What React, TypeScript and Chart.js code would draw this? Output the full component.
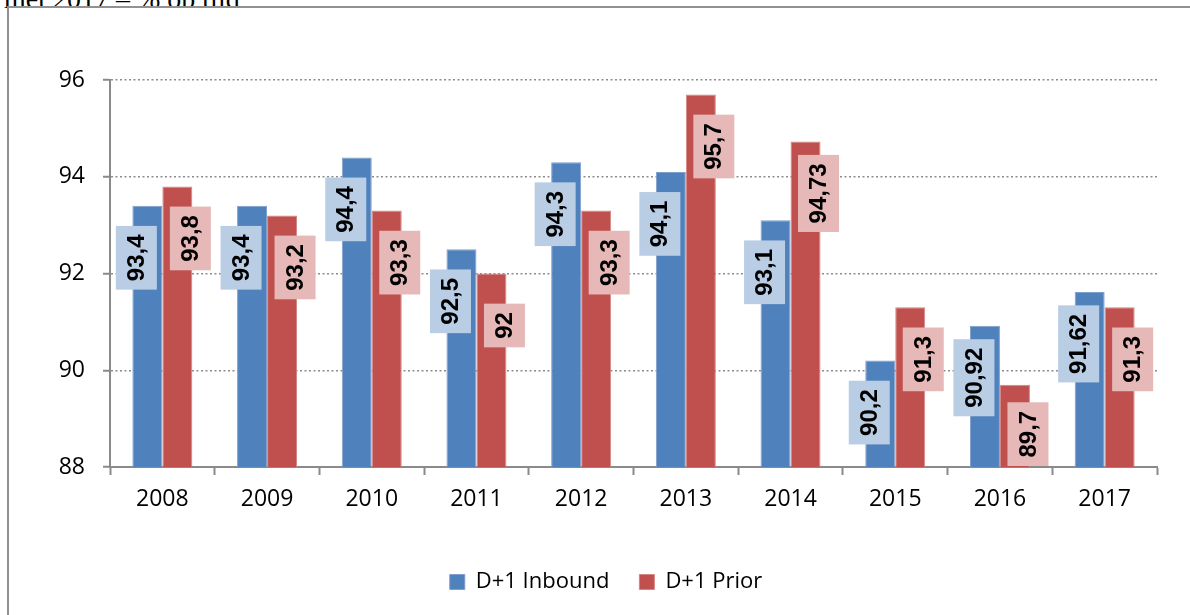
import React, { useEffect, useRef } from "react";
import { Chart, registerables } from "chart.js";

Chart.register(...registerables);

const years = ["2008", "2009", "2010", "2011", "2012", "2013", "2014", "2015", "2016", "2017"];
const inbound = [93.4, 93.4, 94.4, 92.5, 94.3, 94.1, 93.1, 90.2, 90.92, 91.62];
const prior = [93.8, 93.2, 93.3, 92, 93.3, 95.7, 94.73, 91.3, 89.7, 91.3];
const seriesNames = ["D+1 Inbound", "D+1 Prior"];
const yTicks = [88, 90, 92, 94, 96];

const BLUE = "#4F81BD";
const RED = "#C0504D";
const BLUE_LABEL = "#B9CDE5";
const RED_LABEL = "#E6B9B8";
const AXIS = "#8a8a8a";
const TICK_FONT = "'Open Sans', sans-serif";

const labelPlugin = {
  id: "barLabels",
  afterDatasetsDraw(chart: any) {
    const ctx = chart.ctx;
    const area = chart.chartArea;
    ctx.save();
    ctx.font = "bold 24px 'Liberation Sans', Arial, sans-serif";
    ctx.textAlign = "center";
    ctx.textBaseline = "middle";
    chart.data.datasets.forEach((ds: any, di: number) => {
      const meta = chart.getDatasetMeta(di);
      meta.data.forEach((el: any, i: number) => {
        const v = ds.data[i];
        const text = String(v).replace(".", ",");
        const tw = ctx.measureText(text).width;
        const boxLen = tw + 17;
        const boxThick = 41;
        const x = el.x + (di === 0 ? -11 : 13);
        let cy = el.y + 52;
        if (cy + boxLen / 2 > area.bottom - 1) cy = area.bottom - 1 - boxLen / 2;
        ctx.save();
        ctx.translate(x, cy);
        ctx.rotate(-Math.PI / 2);
        ctx.fillStyle = di === 0 ? BLUE_LABEL : RED_LABEL;
        ctx.fillRect(-boxLen / 2, -boxThick / 2, boxLen, boxThick);
        ctx.fillStyle = "#000";
        ctx.fillText(text, 0, 1);
        ctx.restore();
      });
    });
    ctx.restore();
  },
};

export default function App() {
  const ref = useRef<HTMLCanvasElement>(null);
  useEffect(() => {
    if (!ref.current) return;
    const chart = new Chart(ref.current, {
      type: "bar",
      data: {
        labels: years,
        datasets: [
          {
            label: seriesNames[0],
            data: inbound,
            backgroundColor: BLUE,
            borderColor: "#7F9FCC",
            borderWidth: 1,
            barPercentage: 1,
            categoryPercentage: 0.573,
          },
          {
            label: seriesNames[1],
            data: prior,
            backgroundColor: RED,
            borderColor: "#D38684",
            borderWidth: 1,
            barPercentage: 1,
            categoryPercentage: 0.573,
          },
        ],
      },
      options: {
        responsive: false,
        animation: false,
        devicePixelRatio: 1,
        layout: { padding: { left: 55, right: 33, top: 80, bottom: 12 } },
        plugins: {
          legend: {
            position: "bottom",
            labels: {
              boxWidth: 15,
              boxHeight: 15,
              padding: 30,
              color: "#000",
              font: { family: TICK_FONT, size: 22 },
            },
          },
          tooltip: { enabled: false },
          title: { display: false },
        },
        scales: {
          x: {
            afterFit: (s: any) => {
              s.height = 74;
            },
            grid: {
              display: true,
              drawOnChartArea: false,
              drawTicks: true,
              tickLength: 8,
              tickColor: AXIS,
              tickWidth: 2,
              color: AXIS,
              offset: true,
            },
            border: { display: true, color: AXIS, width: 2 },
            ticks: {
              color: "#000",
              padding: 11,
              font: { family: TICK_FONT, size: 23 },
            },
          },
          y: {
            min: 88,
            max: 96,
            afterFit: (s: any) => {
              s.width = 55;
            },
            afterBuildTicks: (s: any) => {
              s.ticks = yTicks.map((v) => ({ value: v }));
            },
            grid: {
              color: "#8c8c8c",
              lineWidth: 1.5,
              drawTicks: true,
              tickLength: 7,
              tickColor: AXIS,
              tickWidth: 2,
              tickBorderDash: [],
            },
            border: { display: true, color: AXIS, width: 2, dash: [2, 2.5] },
            ticks: {
              color: "#000",
              padding: 18,
              font: { family: TICK_FONT, size: 23 },
              callback: (v: any) => String(v),
            },
          },
        },
      },
      plugins: [labelPlugin],
    });
    return () => chart.destroy();
  }, []);

  return (
    <div
      style={{
        position: "fixed",
        left: 0,
        top: 0,
        width: 1190,
        height: 615,
        overflow: "hidden",
        background: "#fff",
      }}
    >
      <div
        style={{
          position: "absolute",
          left: 4,
          top: -15,
          fontFamily: "'Liberation Serif', serif",
          fontSize: 28,
          lineHeight: "28px",
          whiteSpace: "nowrap",
          color: "#000",
        }}
      >
        met 2017 – % op tijd
      </div>
      <div
        style={{
          position: "absolute",
          left: 7,
          top: 6,
          width: 1300,
          height: 700,
          border: "2px solid #919191",
          background: "#fff",
        }}
      />
      <canvas
        ref={ref}
        width={1190}
        height={615}
        style={{ position: "absolute", left: 0, top: 0, width: 1190, height: 615 }}
      />
    </div>
  );
}
